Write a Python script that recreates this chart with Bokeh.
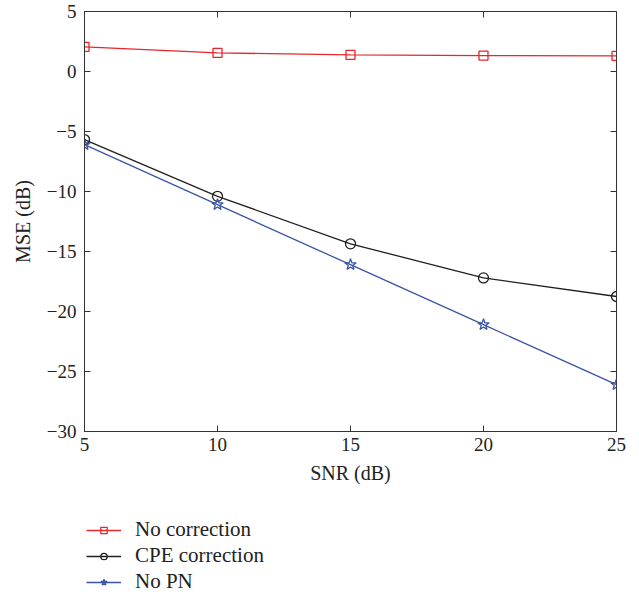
import math
from bokeh.plotting import figure
from bokeh.models import Legend, LegendItem, FixedTicker, Range1d
from bokeh.layouts import column
from bokeh.embed import file_html
from bokeh.resources import INLINE

snr = [5, 10, 15, 20, 25]
no_correction = [2.05, 1.55, 1.38, 1.33, 1.3]
cpe_correction = [-5.67, -10.4, -14.36, -17.2, -18.75]
no_pn = [-6.1, -11.1, -16.1, -21.1, -26.1]
x_ticks = [5, 10, 15, 20, 25]
y_ticks = [5, 0, -5, -10, -15, -20, -25, -30]
series_names = ["No correction", "CPE correction", "No PN"]

FONT = "Liberation Serif"
AX = "#333333"
TXT = "#222222"
RED = "#e8262b"
BLK = "#231f20"
BLU = "#3a55a5"

p = figure(frame_width=532, frame_height=420,
           min_border_left=84, min_border_right=15, min_border_top=11, min_border_bottom=69,
           output_backend="svg", toolbar_location=None,
           x_range=Range1d(min(x_ticks), max(x_ticks)), y_range=Range1d(min(y_ticks), max(y_ticks)))
p.xgrid.visible = False
p.ygrid.visible = False
p.outline_line_color = AX
p.outline_line_width = 1

xa = p.xaxis[0]
xa.ticker = FixedTicker(ticks=x_ticks)
ya = p.yaxis[0]
ya.ticker = FixedTicker(ticks=y_ticks)
for ax in (xa, ya):
    ax.axis_line_color = AX
    ax.major_tick_line_color = AX
    ax.major_tick_in = 6
    ax.major_tick_out = 0
    ax.minor_tick_line_color = None
    ax.major_label_text_font = FONT
    ax.major_label_text_color = TXT
    ax.major_label_text_font_size = "19px"
    ax.axis_label_text_font = FONT
    ax.axis_label_text_font_style = "normal"
    ax.axis_label_text_color = TXT
    ax.axis_label_text_font_size = "20px"
xa.axis_label = "SNR (dB)"
ya.axis_label = "MSE (dB)"
xa.major_label_standoff = 6
xa.axis_label_standoff = 8
ya.major_label_standoff = 8
ya.axis_label_standoff = 10
ya.major_label_overrides = {t: ("\u2212" + str(-t) if t < 0 else str(t)) for t in y_ticks}

# mirrored inward ticks on the top and right edges of the box
p.ray(x=x_ticks, y=[max(y_ticks)] * len(x_ticks), length=6, length_units="screen",
      angle=-math.pi / 2, line_color=AX, line_width=1)
p.ray(x=[max(x_ticks)] * len(y_ticks), y=y_ticks, length=6, length_units="screen",
      angle=math.pi, line_color=AX, line_width=1)

styles = [(no_correction, RED, "square", 9), (cpe_correction, BLK, "circle", 10), (no_pn, BLU, "star", 12)]

def draw(fig):
    rs = []
    for ys, c, mk, sz in styles:
        l = fig.line(snr, ys, line_color=c, line_width=1.3)
        m = fig.scatter(snr, ys, marker=mk, size=sz, line_color=c, fill_color=None, line_width=1.3)
        rs.append([l, m])
    return rs

draw(p)

# legend panel below the chart (its own renderers lie outside its view)
q = figure(width=631, height=95, min_border=0, output_backend="svg", toolbar_location=None,
           x_range=Range1d(100, 200), y_range=Range1d(100, 200))
q.axis.visible = False
q.xgrid.visible = False
q.ygrid.visible = False
q.outline_line_color = None
legend_rs = draw(q)
legend = Legend(items=[LegendItem(label=n, renderers=r) for n, r in zip(series_names, legend_rs)],
                location=(2, 1), orientation="vertical",
                border_line_color=None, background_fill_alpha=0,
                padding=0, margin=0, spacing=1, glyph_width=35, glyph_height=16,
                label_height=16, label_standoff=14,
                label_text_font=FONT, label_text_font_size="21px", label_text_color=TXT)
q.add_layout(legend, "center")

open("out.html", "w").write(file_html(column(p, q), INLINE))
